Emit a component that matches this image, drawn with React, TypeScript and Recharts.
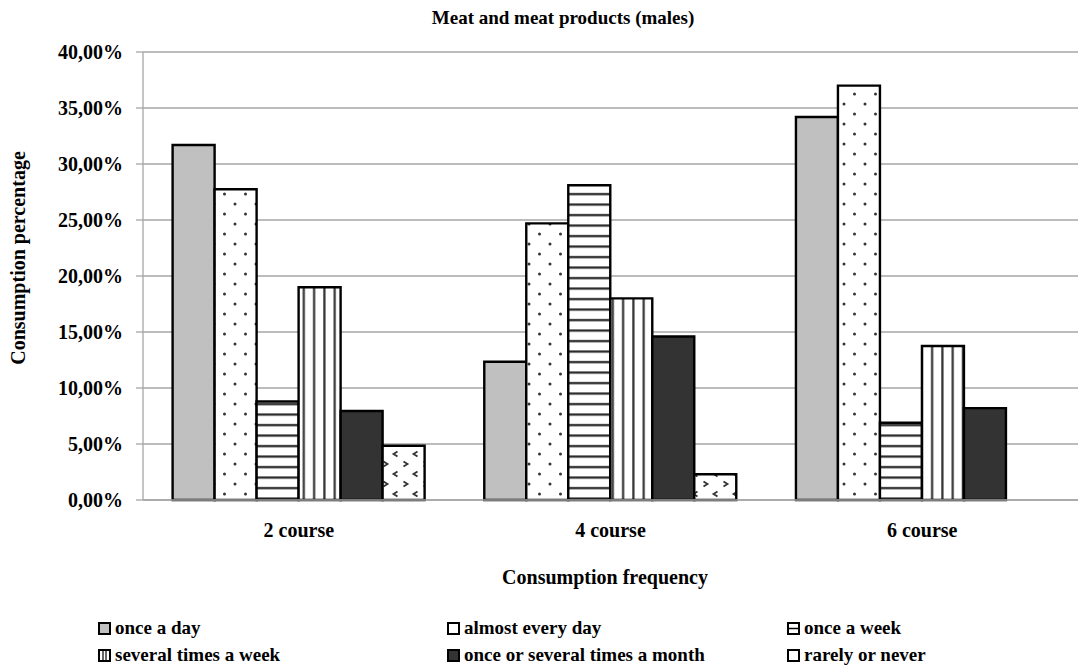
import React from "react";
import { BarChart, Bar, XAxis, YAxis, CartesianGrid } from "recharts";

// values (percent)
const categories = ["2 course", "4 course", "6 course"];
const onceADay = [31.7, 12.35, 34.2];
const almostEveryDay = [27.75, 24.7, 37.0];
const onceAWeek = [8.8, 28.1, 6.9];
const severalTimesAWeek = [19.0, 18.0, 13.75];
const onceOrSeveralAMonth = [7.95, 14.6, 8.2];
const rarelyOrNever = [4.85, 2.3, 0];
const yTicks = [0, 5, 10, 15, 20, 25, 30, 35, 40];

const series = [
  { key: "onceADay", name: "once a day", values: onceADay, fill: "#c0c0c0" },
  { key: "almostEveryDay", name: "almost every day", values: almostEveryDay, fill: "url(#dots)" },
  { key: "onceAWeek", name: "once a week", values: onceAWeek, fill: "url(#hlines)" },
  { key: "severalTimesAWeek", name: "several times a week", values: severalTimesAWeek, fill: "url(#vlines)" },
  { key: "onceOrSeveralAMonth", name: "once or several times a month", values: onceOrSeveralAMonth, fill: "#333333" },
  { key: "rarelyOrNever", name: "rarely or never", values: rarelyOrNever, fill: "url(#chevrons)" },
];

const data = categories.map((c, i) => {
  const row: Record<string, string | number> = { category: c };
  series.forEach((s) => (row[s.key] = s.values[i]));
  return row;
});

const FONT = '"Liberation Serif", "Times New Roman", serif';

const fmt = (v: number) => v.toFixed(2).replace(".", ",") + "%";

const LegendIcon = ({ kind }: { kind: string }) => (
  <svg width={13} height={13} style={{ marginRight: 4, flex: "none" }}>
    <rect
      x={1}
      y={1}
      width={11}
      height={11}
      fill={kind === "onceADay" ? "#c0c0c0" : kind === "onceOrSeveralAMonth" ? "#333" : "#fff"}
      stroke="#000"
      strokeWidth={2}
    />
    {kind === "onceAWeek" && <line x1={1} x2={12} y1={6.5} y2={6.5} stroke="#000" strokeWidth={1.5} />}
    {kind === "severalTimesAWeek" && (
      <>
        <line x1={5} x2={5} y1={1} y2={12} stroke="#000" strokeWidth={1.2} />
        <line x1={8} x2={8} y1={1} y2={12} stroke="#000" strokeWidth={1.2} />
      </>
    )}
  </svg>
);

const legendPos = [
  { left: 98, top: 618 },
  { left: 447, top: 618 },
  { left: 787, top: 618 },
  { left: 98, top: 645 },
  { left: 447, top: 645 },
  { left: 787, top: 645 },
];

export default function App() {
  return (
    <div
      style={{
        position: "absolute",
        left: 0,
        top: 0,
        width: 1079,
        height: 669,
        background: "#fff",
        fontFamily: FONT,
        fontWeight: "bold",
        color: "#000",
      }}
    >
      <BarChart
        width={1079}
        height={669}
        data={data}
        margin={{ top: 52, right: 1, bottom: 139, left: 0 }}
        barCategoryGap="9.5%"
        barGap={0}
      >
        <defs>
          <pattern id="dots" width={21} height={20} patternUnits="userSpaceOnUse">
            <rect width={21} height={20} fill="#fff" />
            <circle cx={4} cy={4} r={1.5} fill="#333" />
            <circle cx={14.5} cy={14} r={1.5} fill="#333" />
          </pattern>
          <pattern id="hlines" width={10} height={10.5} patternUnits="userSpaceOnUse">
            <rect width={10} height={10.5} fill="#fff" />
            <rect y={4} width={10} height={2.2} fill="#222" />
          </pattern>
          <pattern id="vlines" width={10.3} height={10} patternUnits="userSpaceOnUse">
            <rect width={10.3} height={10} fill="#fff" />
            <rect x={4} width={2.2} height={10} fill="#333" />
          </pattern>
          <pattern id="chevrons" width={20} height={20} patternUnits="userSpaceOnUse">
            <rect width={20} height={20} fill="#fff" />
            <path d="M3.5 1.5 L7.5 4 L3.5 6.5" fill="none" stroke="#333" strokeWidth={1.8} />
            <path d="M17.5 11.5 L13.5 14 L17.5 16.5" fill="none" stroke="#333" strokeWidth={1.8} />
          </pattern>
        </defs>
        <CartesianGrid vertical={false} stroke="#a6a6a6" strokeWidth={1.3} />
        <XAxis
          dataKey="category"
          height={30}
          tickLine={false}
          tickSize={0}
          tickMargin={23}
          axisLine={{ stroke: "#a6a6a6", strokeWidth: 1.3 }}
          tick={{ fill: "#000", fontSize: 20, fontWeight: "bold", fontFamily: FONT }}
        />
        <YAxis
          width={143}
          domain={[0, 40]}
          ticks={yTicks}
          tickFormatter={fmt}
          tickSize={7}
          tickMargin={13}
          axisLine={{ stroke: "#a6a6a6", strokeWidth: 1.3 }}
          tickLine={{ stroke: "#a6a6a6", strokeWidth: 1.3 }}
          tick={{ fill: "#000", fontSize: 20, fontWeight: "bold", fontFamily: FONT }}
        />
        {series.map((s) => (
          <Bar
            key={s.key}
            dataKey={s.key}
            name={s.name}
            fill={s.fill}
            stroke="#000"
            strokeWidth={2.4}
            isAnimationActive={false}
          />
        ))}
      </BarChart>

      <div
        style={{
          position: "absolute",
          left: 263,
          width: 600,
          top: 8,
          fontSize: 19,
          lineHeight: "20px",
          textAlign: "center",
        }}
      >
        Meat and meat products (males)
      </div>

      <div
        style={{
          position: "absolute",
          left: 18 - 150,
          top: 258 - 11,
          width: 300,
          fontSize: 20,
          lineHeight: "22px",
          textAlign: "center",
          transform: "rotate(-90deg)",
        }}
      >
        Consumption percentage
      </div>

      <div
        style={{
          position: "absolute",
          left: 305,
          width: 600,
          top: 566,
          fontSize: 20,
          lineHeight: "22px",
          textAlign: "center",
        }}
      >
        Consumption frequency
      </div>

      {series.map((s, i) => (
        <div
          key={s.key}
          style={{
            position: "absolute",
            left: legendPos[i].left,
            top: legendPos[i].top,
            display: "flex",
            alignItems: "center",
            fontSize: 19,
            lineHeight: "20px",
            whiteSpace: "nowrap",
          }}
        >
          <LegendIcon kind={s.key} />
          {s.name}
        </div>
      ))}
    </div>
  );
}
